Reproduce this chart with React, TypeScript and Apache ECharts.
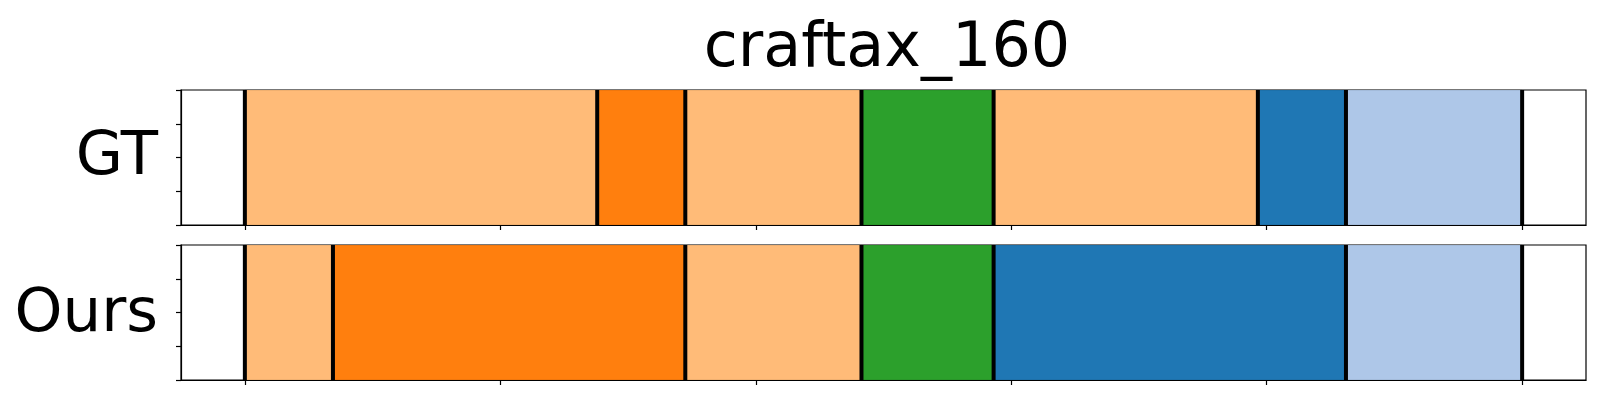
import React, { useEffect, useRef } from "react";
import * as echarts from "echarts";

const titleText = "craftax_160";
const rowNames = ["GT", "Ours"];
const totalSteps = 29;
const gtLengths = [8, 2, 4, 3, 6, 2, 4];
const gtColors = ["#ffbb78", "#ff7f0e", "#ffbb78", "#2ca02c", "#ffbb78", "#1f77b4", "#aec7e8"];
const oursLengths = [2, 8, 4, 3, 8, 4];
const oursColors = ["#ffbb78", "#ff7f0e", "#ffbb78", "#2ca02c", "#1f77b4", "#aec7e8"];
const xTicks = [0, 0.2, 0.4, 0.6, 0.8, 1.0];

function toSegments(lengths: number[]) {
  const segs: number[][] = [];
  let acc = 0;
  for (const l of lengths) {
    segs.push([acc / totalSteps, (acc + l) / totalSteps]);
    acc += l;
  }
  return segs;
}
function toBounds(lengths: number[]) {
  const b: number[] = [0];
  let acc = 0;
  for (const l of lengths) {
    acc += l;
    b.push(acc / totalSteps);
  }
  return b.map((v) => [v]);
}

export default function App() {
  const ref = useRef<HTMLDivElement>(null);
  useEffect(() => {
    document.body.style.margin = "0";
    const chart = echarts.init(ref.current!, null, { renderer: "svg" });
    const font = "DejaVu Sans";
    const rows = [
      { lengths: gtLengths, colors: gtColors },
      { lengths: oursLengths, colors: oursColors },
    ];
    const grids = [
      { left: 181, right: 14, top: 90, height: 135 },
      { left: 181, right: 14, top: 245, height: 135 },
    ].map((g) => ({ ...g, show: true, borderColor: "#000", borderWidth: 1.2, backgroundColor: "transparent", containLabel: false }));

    const xAxes = [0, 1].map((i) => ({
      type: "value",
      gridIndex: i,
      min: -0.05,
      max: 1.05,
      splitLine: { show: false },
      axisLine: { show: true, onZero: false, lineStyle: { color: "#000", width: 1.2 } },
      axisTick: { show: true, customValues: xTicks, length: 5, lineStyle: { color: "#000", width: 1.2 } },
      axisLabel: { show: false },
    }));
    const yAxes = [0, 1].map((i) => ({
      type: "value",
      gridIndex: i,
      position: "left",
      min: 0,
      max: 1,
      interval: 0.25,
      splitLine: { show: false },
      axisLine: { show: true, onZero: false, lineStyle: { color: "#000", width: 1.2 } },
      axisTick: { show: true, inside: false, length: 5, lineStyle: { color: "#000", width: 1.2 } },
      axisLabel: { show: false },
    }));

    const series: any[] = [];
    rows.forEach((row, i) => {
      const segs = toSegments(row.lengths);
      series.push({
        type: "custom",
        xAxisIndex: i,
        yAxisIndex: i,
        data: segs,
        z: 1,
        renderItem: (params: any, api: any) => {
          const p0 = api.coord([api.value(0), 1]);
          const p1 = api.coord([api.value(1), 0]);
          return {
            type: "rect",
            shape: { x: p0[0], y: p0[1], width: p1[0] - p0[0], height: p1[1] - p0[1] },
            style: { fill: row.colors[params.dataIndex], stroke: "rgba(0,0,0,0.12)", lineWidth: 1 },
          };
        },
      });
      series.push({
        type: "custom",
        xAxisIndex: i,
        yAxisIndex: i,
        data: toBounds(row.lengths),
        z: 2,
        renderItem: (params: any, api: any) => {
          const a = api.coord([api.value(0), 0]);
          const b = api.coord([api.value(0), 1]);
          return {
            type: "line",
            shape: { x1: a[0], y1: a[1], x2: b[0], y2: b[1] },
            style: { stroke: "#000", lineWidth: 4 },
          };
        },
      });
    });

    chart.setOption({
      animation: false,
      backgroundColor: "#fff",
      title: {
        text: titleText,
        left: 882,
        top: 8,
        textAlign: "center",
        textStyle: { fontFamily: font, fontSize: 62, fontWeight: "normal", color: "#000" },
      },
      grid: grids,
      xAxis: xAxes,
      yAxis: yAxes,
      series,
      graphic: [
        { type: "text", x: 158, y: 152, style: { text: rowNames[0], font: `61px '${font}'`, fill: "#000", align: "right", verticalAlign: "middle" } },
        { type: "text", x: 158, y: 309, style: { text: rowNames[1], font: `61px '${font}'`, fill: "#000", align: "right", verticalAlign: "middle" } },
      ],
    });
    return () => chart.dispose();
  }, []);
  return <div ref={ref} style={{ width: 1600, height: 400 }} />;
}
